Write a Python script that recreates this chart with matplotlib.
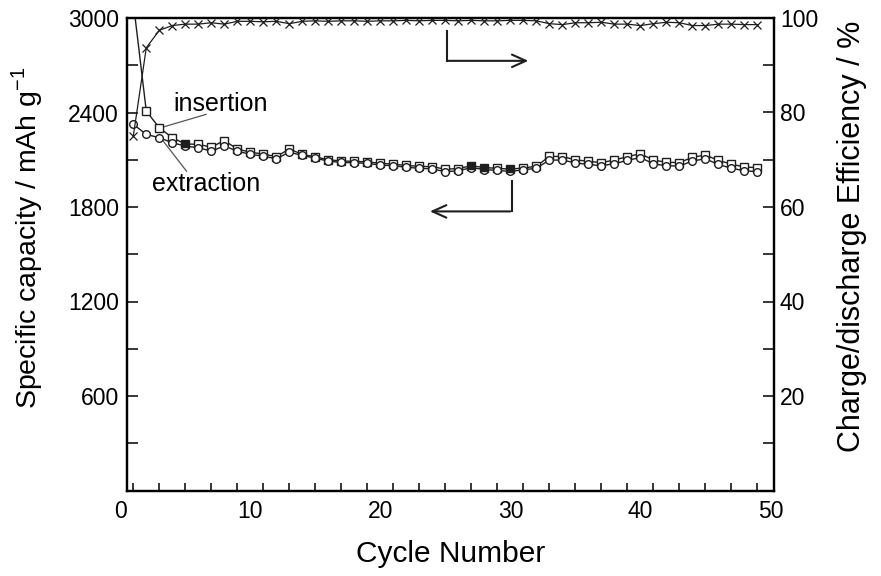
import matplotlib
matplotlib.use("Agg")
import matplotlib.pyplot as plt
import numpy as np

plt.rcParams['font.family'] = ['Liberation Sans', 'DejaVu Sans']
plt.rcParams['mathtext.fontset'] = 'custom'
plt.rcParams['mathtext.rm'] = 'Liberation Sans'

# cycle number
cycles = list(range(1, 50))

# insertion capacity (mAh/g), squares
insertion = [3100, 2409, 2303, 2240, 2200, 2198, 2180, 2222, 2168, 2148,
             2136, 2120, 2168, 2134, 2118, 2100, 2092, 2090, 2086, 2078,
             2072, 2064, 2058, 2056, 2040, 2044, 2062, 2050, 2046, 2040,
             2048, 2058, 2122, 2120, 2100, 2090, 2082, 2098, 2120, 2138,
             2098, 2084, 2082, 2116, 2130, 2096, 2072, 2054, 2050]

# extraction capacity (mAh/g), circles
extraction = [2325, 2261, 2240, 2208, 2187, 2176, 2155, 2187, 2155, 2134,
              2123, 2106, 2148, 2127, 2110, 2091, 2083, 2081, 2077, 2066,
              2062, 2052, 2046, 2042, 2024, 2030, 2050, 2038, 2032, 2026,
              2036, 2046, 2098, 2098, 2080, 2070, 2062, 2075, 2096, 2114,
              2074, 2062, 2060, 2092, 2106, 2070, 2046, 2030, 2024]

# charge/discharge efficiency (%), crosses
efficiency = [75.0, 93.7, 97.4, 98.4, 98.7, 98.7, 99.0, 98.7, 99.3, 99.3,
              99.2, 99.3, 98.8, 99.3, 99.4, 99.3, 99.4, 99.4, 99.3, 99.4,
              99.4, 99.5, 99.4, 99.5, 99.5, 99.4, 99.5, 99.4, 99.4, 99.5,
              99.5, 99.4, 98.8, 98.6, 99.0, 99.0, 99.1, 98.7, 98.7, 98.4,
              98.8, 99.1, 99.0, 98.4, 98.4, 98.7, 98.7, 98.6, 98.6]

# points where the markers print as solid black
filled_cycles = [5, 27, 28, 30]

fig = plt.figure(figsize=(8.81, 5.76), dpi=100)
ax = fig.add_axes([0.1445, 1 - 490.5 / 576, 0.8789 - 0.1445, (490.5 - 18) / 576])
ax2 = ax.twinx()

lc = '#1e1e1e'
ax.plot(cycles, insertion, color=lc, lw=1.0, marker='s', ms=5.5, mfc='white',
        mec=lc, mew=1.0, zorder=3)
ax.plot(cycles, extraction, color=lc, lw=1.0, marker='o', ms=5.5, mfc='white',
        mec=lc, mew=1.0, zorder=3)
idx = [cycles.index(c) for c in filled_cycles]
ax.plot([cycles[i] for i in idx], [insertion[i] for i in idx], ls='none',
        marker='s', ms=5, mfc=lc, mec=lc, zorder=4)
ax2.plot(cycles, efficiency, color=lc, lw=0.9, marker='x', ms=6, mew=0.9, zorder=3)

ax.set_xlim(0.54, 50.3)
ax.set_ylim(0, 3000)
ax2.set_ylim(0, 100)

ax.set_xticks([10, 20, 30, 40, 50])
ax.set_xticks(np.arange(1, 50, 2), minor=True)
ax.set_yticks([600, 1200, 1800, 2400, 3000])
ax.set_yticks(np.arange(300, 3000, 300), minor=True)
ax2.set_yticks([20, 40, 60, 80, 100])
ax2.set_yticks(np.arange(10, 100, 10), minor=True)

ax.tick_params(axis='x', which='major', length=0, labelsize=16.5, pad=7)
ax.tick_params(axis='x', which='minor', direction='in', length=6, width=1.1)
ax.tick_params(axis='y', which='both', direction='in', length=8, width=1.1,
               labelsize=16.5, pad=6)
ax2.tick_params(axis='y', which='both', direction='in', length=8, width=1.1,
                labelsize=16.5, pad=4)
ax.tick_params(axis='x', which='both', top=False)
ax.text(0, -0.0205, '0', transform=ax.get_xaxis_transform(), ha='center',
        va='top', fontsize=16.5)

for a in (ax, ax2):
    for s in a.spines.values():
        s.set_linewidth(1.6)

ax.set_xlabel('Cycle Number', fontsize=21.5, labelpad=12)
ax.set_ylabel('Specific capacity / mAh g$^{\\mathrm{-1}}$', fontsize=20.5)
ax.yaxis.set_label_coords(-0.127, 0.535)
ax2.set_ylabel('Charge/discharge Efficiency / %', fontsize=22)
ax2.yaxis.set_label_coords(1.097, 0.537)

# annotations
ax.text(7.7, 2455, 'insertion', fontsize=18, ha='center', va='center')
ax.plot([6.6, 3.1], [2388, 2303], color='#555555', lw=0.9)
ax.text(6.6, 1945, 'extraction', fontsize=18, ha='center', va='center')
ax.plot([3.1, 5.1], [2240, 2027], color='#555555', lw=0.9)

# arrow pointing to right axis
ax.plot([25.1, 25.1], [2919, 2728], color=lc, lw=1.5)
ax.annotate('', xy=(31.6, 2728), xytext=(25.0, 2728),
            arrowprops=dict(arrowstyle='->, head_length=1.0, head_width=0.45',
                            color=lc, lw=1.5))
# arrow pointing to left axis
ax.plot([30.1, 30.1], [1963, 1772], color=lc, lw=1.5)
ax.annotate('', xy=(23.6, 1772), xytext=(30.2, 1772),
            arrowprops=dict(arrowstyle='->, head_length=1.0, head_width=0.45',
                            color=lc, lw=1.5))

fig.savefig('out.png', dpi=100)
